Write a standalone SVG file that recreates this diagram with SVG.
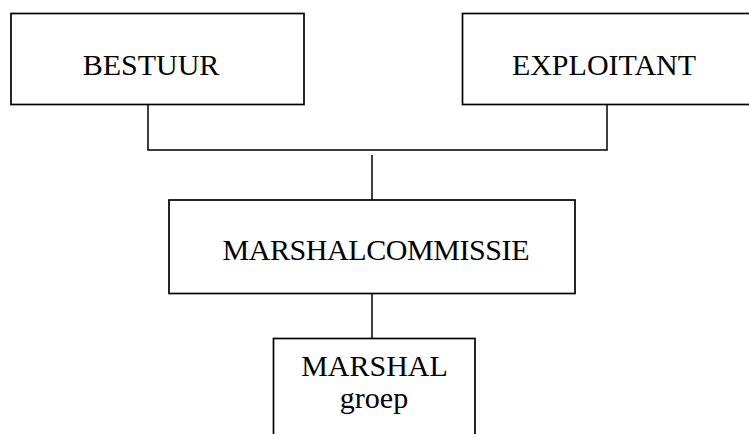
<svg xmlns="http://www.w3.org/2000/svg" width="749" height="434" viewBox="0 0 749 434">
<style>
.box{fill:#fff;stroke:#000;stroke-width:1.7}
.lbl{font-family:"Liberation Serif",serif;font-size:30px;fill:#000;text-anchor:middle}
.con{fill:none;stroke:#000;stroke-width:1.5}
</style>
<rect width="749" height="434" fill="#fff"/>
<g id="connectors">
<polyline class="con" points="148,104.5 148,150 607,150 607,104.5"/>
<line class="con" x1="372" y1="155" x2="372" y2="200"/>
<line class="con" x1="372" y1="293.5" x2="372" y2="338.5"/>
</g>
<g id="bestuur">
<rect class="box" x="11" y="13.5" width="293" height="91"/>
<text class="lbl" x="151" y="75">BESTUUR</text>
</g>
<g id="exploitant">
<rect class="box" x="462.5" y="13.5" width="292" height="91"/>
<text class="lbl" x="604" y="75">EXPLOITANT</text>
</g>
<g id="marshalcommissie">
<rect class="box" x="169" y="200" width="406" height="93.5"/>
<text class="lbl" x="376" y="260" textLength="307">MARSHALCOMMISSIE</text>
</g>
<g id="marshal-groep">
<rect class="box" x="273.5" y="338.5" width="201.5" height="110"/>
<text class="lbl" x="374.5" y="376">MARSHAL</text>
<text class="lbl" x="374" y="408">groep</text>
</g>
</svg>
